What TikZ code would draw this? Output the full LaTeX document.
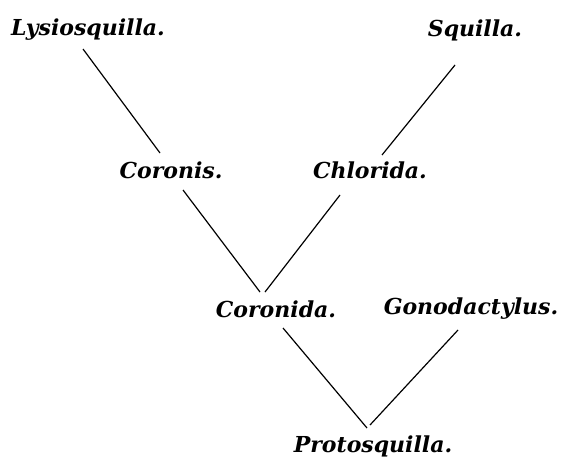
\documentclass[tikz,border=0pt]{standalone}
\usepackage{fontspec}
\setmainfont{DejaVu Serif}
\usetikzlibrary{calc}
\begin{document}
\begin{tikzpicture}[x=1pt,y=-1pt,
  lbl/.style={inner sep=0pt,anchor=center,font=\fontsize{22}{26}\selectfont\bfseries\itshape},
  branch/.style={line width=1.2pt,black}]
\useasboundingbox (0,0) rectangle (561,463);
\node[lbl] (lys) at (88,30) {Lysiosquilla.};
\node[lbl] (squ) at (475,30) {Squilla.};
\node[lbl] (cor) at (171,170) {Coronis.};
\node[lbl] (chl) at (370,170) {Chlorida.};
\node[lbl] (crd) at (276,309) {Coronida.};
\node[lbl] (gon) at (471,309) {Gonodactylus.};
\node[lbl] (pro) at (373,446) {Protosquilla.};
\draw[branch] ($(lys.center)+(-5,19)$) -- ($(cor.center)+(-11,-17)$);
\draw[branch] ($(squ.center)+(-20,35)$) -- ($(chl.center)+(12,-15)$);
\draw[branch] ($(cor.center)+(12,20)$) -- ($(crd.center)+(-16,-17)$);
\draw[branch] ($(chl.center)+(-30,25)$) -- ($(crd.center)+(-11,-17)$);
\draw[branch] ($(crd.center)+(7,19)$) -- ($(pro.center)+(-6,-18)$);
\draw[branch] ($(gon.center)+(-13,21)$) -- ($(pro.center)+(-3,-21)$);
\end{tikzpicture}
\end{document}
